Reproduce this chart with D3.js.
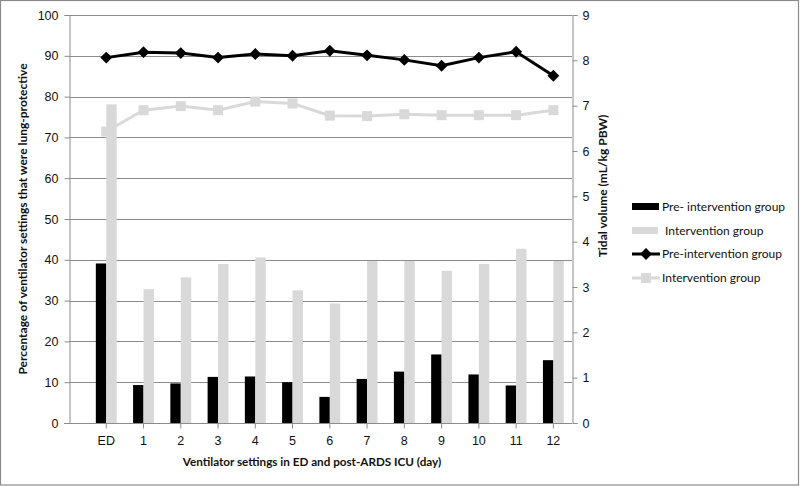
<!DOCTYPE html>
<html><head><meta charset="utf-8">
<script src="https://cdn.jsdelivr.net/npm/d3@7"></script>
<style>body{margin:0;background:#fff}svg{display:block;font-family:Lato,"Open Sans",sans-serif}</style>
</head><body><svg id="c" width="800" height="486"></svg>
<script>
const categories = ["ED","1","2","3","4","5","6","7","8","9","10","11","12"];
const preBars = [39.1,9.3,9.7,11.3,11.4,10.0,6.4,10.8,12.6,16.8,11.9,9.2,15.4];
const intBars = [78.1,32.8,35.7,39.0,40.6,32.5,29.3,39.7,39.7,37.3,39.0,42.7,39.7];
const preVt = [8.06,8.18,8.16,8.06,8.14,8.10,8.21,8.11,8.01,7.88,8.06,8.19,7.66];
const intVt = [6.43,6.90,6.99,6.90,7.09,7.05,6.78,6.77,6.81,6.79,6.79,6.79,6.90];
const leftTicks = [0,10,20,30,40,50,60,70,80,90,100];
const rightTicks = [0,1,2,3,4,5,6,7,8,9];
const legendLabels = ["Pre- intervention group"," Intervention group","Pre-intervention group","Intervention group"];

const svg = d3.select("#c");
const GRID = "#8c8c8c", LIGHT = "#d9d9d9", TXT = "#111";
const L = 69, R = 572, T = 15, B = 423;
const bw = (R - L) / 13.5;
const x = d3.scaleBand().domain(categories).range([L + bw/2, R]).paddingInner(0).paddingOuter(0);
const yL = d3.scaleLinear().domain([0,100]).range([B,T]);
const yR = d3.scaleLinear().domain([0,9]).range([B,T]);

svg.append("rect").attr("x",0.5).attr("y",0.5).attr("width",798).attr("height",484.5)
  .attr("fill","#fff").attr("stroke","#8a8a8a").attr("stroke-width",1.2);

// gridlines
svg.append("g").selectAll("line").data(leftTicks.filter(d=>d>0)).join("line")
  .attr("x1",L).attr("x2",R).attr("y1",d=>Math.round(yL(d))+0.5).attr("y2",d=>Math.round(yL(d))+0.5)
  .attr("stroke",GRID).attr("stroke-width",1);

// axes
const axL = svg.append("g").attr("transform",`translate(${L+0.5},0)`)
  .call(d3.axisLeft(yL).tickValues(leftTicks).tickSize(5).tickPadding(6));
const axR = svg.append("g").attr("transform",`translate(${R+0.5},0)`)
  .call(d3.axisRight(yR).tickValues(rightTicks).tickSize(5).tickPadding(5));
const axB = svg.append("g").attr("transform",`translate(0,${B+0.5})`)
  .call(d3.axisBottom(x).tickSize(5).tickPadding(8));
svg.append("line").attr("x1",L-5).attr("x2",R).attr("y1",B+0.5).attr("y2",B+0.5).attr("stroke",GRID);
[axL,axR,axB].forEach(a=>{
  a.select(".domain").attr("stroke",GRID);
  a.selectAll(".tick line").attr("stroke",GRID);
  a.selectAll("text").attr("fill",TXT).attr("font-size",12.5);
});
axB.select(".domain").remove();

// bars
const barW = bw*0.28;
svg.append("g").selectAll("rect").data(categories).join("rect")
  .attr("x",d=>x(d)+x.bandwidth()/2-barW).attr("width",barW)
  .attr("y",(d,i)=>yL(preBars[i])).attr("height",(d,i)=>B-yL(preBars[i])).attr("fill","#000");
svg.append("g").selectAll("rect").data(categories).join("rect")
  .attr("x",d=>x(d)+x.bandwidth()/2).attr("width",barW)
  .attr("y",(d,i)=>yL(intBars[i])).attr("height",(d,i)=>B-yL(intBars[i])).attr("fill",LIGHT);

// lines
const cx = d=>x(d)+x.bandwidth()/2;
const lineGen = d3.line().x((d,i)=>cx(categories[i])).y(d=>yR(d));
svg.append("path").attr("d",lineGen(intVt)).attr("fill","none").attr("stroke",LIGHT).attr("stroke-width",3);
svg.append("g").selectAll("rect").data(intVt).join("rect")
  .attr("x",(d,i)=>cx(categories[i])-5).attr("y",d=>yR(d)-5).attr("width",10).attr("height",10).attr("fill",LIGHT);
svg.append("path").attr("d",lineGen(preVt)).attr("fill","none").attr("stroke","#000").attr("stroke-width",3);
const diamond = d3.symbol().type(d3.symbolDiamond2).size(90);
svg.append("g").selectAll("path").data(preVt).join("path")
  .attr("transform",(d,i)=>`translate(${cx(categories[i])},${yR(d)})`).attr("d",diamond).attr("fill","#000");

// axis titles
svg.append("text").attr("transform","translate(27,219) rotate(-90)").attr("text-anchor","middle")
  .attr("font-weight","bold").attr("font-size",12).attr("fill",TXT)
  .text("Percentage of ventilator settings that were lung-protective");
svg.append("text").attr("transform","translate(607,186) rotate(-90)").attr("text-anchor","middle")
  .attr("font-weight","bold").attr("font-size",12).attr("fill",TXT)
  .text("Tidal volume (mL/kg PBW)");
svg.append("text").attr("x",312).attr("y",466).attr("text-anchor","middle")
  .attr("font-weight","bold").attr("font-size",11.7).attr("fill",TXT)
  .text("Ventilator settings in ED and post-ARDS ICU (day)");

// legend
const lg = svg.append("g");
const ly = [207,231,254,278];
lg.append("rect").attr("x",632).attr("y",ly[0]-4).attr("width",27).attr("height",7).attr("fill","#000");
lg.append("rect").attr("x",632).attr("y",ly[1]-4).attr("width",26).attr("height",7).attr("fill",LIGHT);
lg.append("line").attr("x1",632).attr("x2",660).attr("y1",ly[2]).attr("y2",ly[2]).attr("stroke","#000").attr("stroke-width",3);
lg.append("path").attr("transform",`translate(646,${ly[2]})`).attr("d",diamond).attr("fill","#000");
lg.append("line").attr("x1",632).attr("x2",660).attr("y1",ly[3]).attr("y2",ly[3]).attr("stroke",LIGHT).attr("stroke-width",3);
lg.append("rect").attr("x",641).attr("y",ly[3]-5).attr("width",10).attr("height",10).attr("fill",LIGHT);
lg.selectAll("text").data(legendLabels).join("text")
  .attr("x",662).attr("y",(d,i)=>ly[i]).attr("dy","0.35em").attr("font-size",12).attr("fill",TXT)
  .attr("xml:space","preserve").style("white-space","pre").text(d=>d);
</script></body></html>
